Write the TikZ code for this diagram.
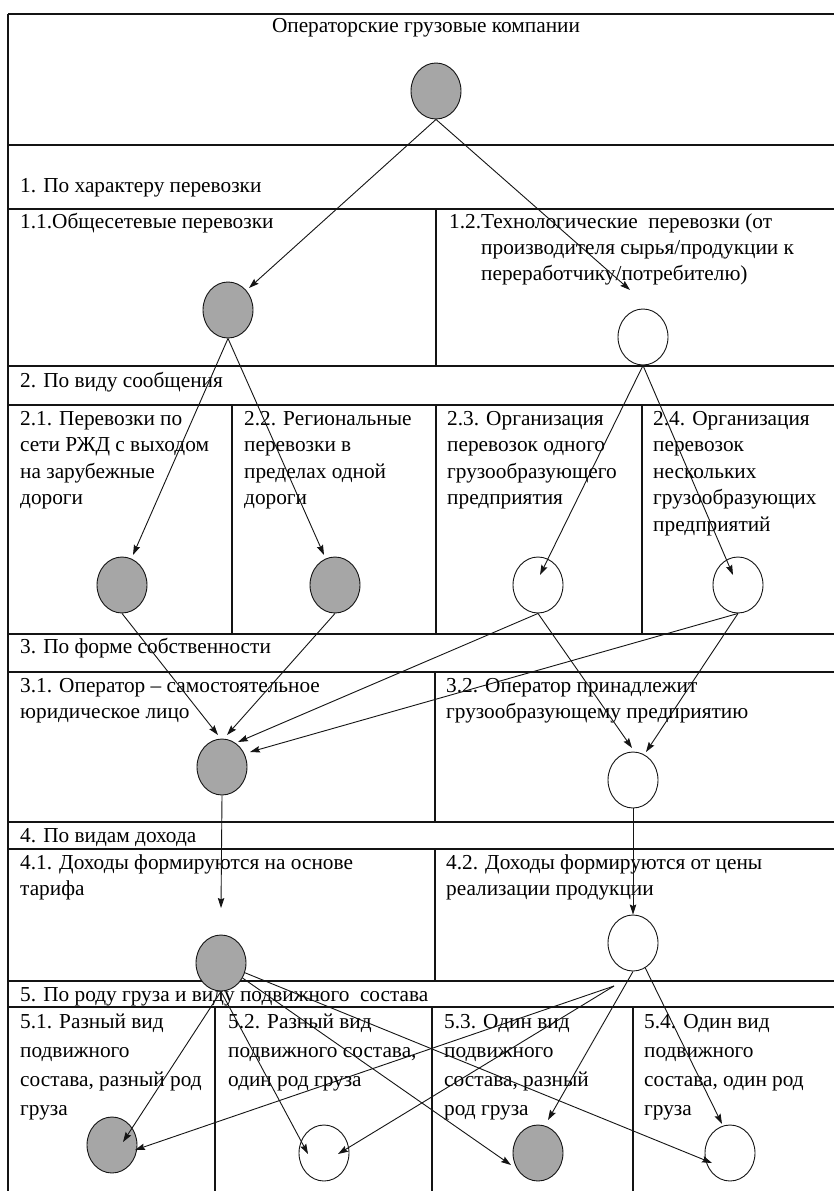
\documentclass[tikz,border=0pt]{standalone}
\usepackage{fontspec}
\setmainfont{Liberation Serif}
\usetikzlibrary{arrows.meta,calc,shapes.geometric}
\definecolor{nodegray}{HTML}{A6A6A6}
\definecolor{inkline}{HTML}{141414}
\begin{document}
\begin{tikzpicture}[x=1pt,y=-1pt,
  hline/.style={line width=2pt,inkline},
  vline/.style={line width=1.2pt,inkline},
  circ/.style={ellipse,draw=inkline,line width=0.9pt,minimum width=50pt,minimum height=56pt,inner sep=0pt},
  gnode/.style={circ,fill=nodegray},
  wnode/.style={circ,fill=white},
  lbl/.style={anchor=base west,inner sep=0pt,align=left,font=\fontsize{21.3}{26.5}\selectfont},
  lblfive/.style={lbl,font=\fontsize{21.3}{29}\selectfont},
  conn/.style={line width=0.9pt,inkline,-{Stealth[length=10pt,width=6.5pt,inset=1.5pt]}}
]
\useasboundingbox (0,0) rectangle (834,1191);
\fill[white] (0,0) rectangle (834,1191);

% grid
\foreach \yy in {14,145,209,366,405,634,672,822,849,981,1007}
  \draw[hline] (8,\yy) -- (834,\yy);
\draw[hline] (8,14) -- (8,1191);
\draw[vline] (436,209) -- (436,366);
\draw[vline] (232,405) -- (232,634);
\draw[vline] (436,405) -- (436,634);
\draw[vline] (642,405) -- (642,634);
\draw[vline] (435,672) -- (435,822);
\draw[vline] (435,849) -- (435,981);
\draw[vline] (215,1007) -- (215,1191);
\draw[vline] (432,1007) -- (432,1191);
\draw[vline] (633,1007) -- (633,1191);

% texts (base anchor of a multi-line node = baseline of its last line)
\node[lbl,anchor=base] (t0) at (426,32) {Операторские грузовые компании};
\node[lbl] (t1) at (20,192) {1. По характеру перевозки};
\node[lbl] (t11) at (20,228) {1.1.Общесетевые перевозки};
\node[lbl] (t12a) at (449,228) {1.2.Технологические\ \ перевозки (от};
\node[lbl] (t12b) at (481,280.5) {производителя сырья/продукции к\\переработчику/потребителю)};
\node[lbl] (t2) at (20,387) {2. По виду сообщения};
\node[lbl] (t21) at (20,504.5) {2.1. Перевозки по\\сети РЖД с выходом\\на зарубежные\\дороги};
\node[lbl] (t22) at (244,504.5) {2.2. Региональные\\перевозки в\\пределах одной\\дороги};
\node[lbl] (t23) at (447,504.5) {2.3. Организация\\перевозок одного\\грузообразующего\\предприятия};
\node[lbl] (t24) at (653,531) {2.4. Организация\\перевозок\\нескольких\\грузообразующих\\предприятий};
\node[lbl] (t3) at (20,653) {3. По форме собственности};
\node[lbl] (t31) at (20,718.5) {3.1. Оператор – самостоятельное\\юридическое лицо};
\node[lbl] (t32) at (446,718.5) {3.2. Оператор принадлежит\\грузообразующему предприятию};
\node[lbl] (t4) at (20,842) {4. По видам дохода};
\node[lbl] (t41) at (20,895.5) {4.1. Доходы формируются на основе\\тарифа};
\node[lbl] (t42) at (446,895.5) {4.2. Доходы формируются от цены\\реализации продукции};
\node[lbl] (t5) at (20,1001) {5. По роду груза и виду подвижного\ \ состава};
\node[lblfive] (t51) at (20,1115) {5.1. Разный вид\\подвижного\\состава, разный род\\груза};
\node[lblfive] (t52) at (228,1086) {5.2. Разный вид\\подвижного состава,\\один род груза};
\node[lblfive] (t53) at (444,1115) {5.3. Один вид\\подвижного\\состава, разный\\род груза};
\node[lblfive] (t54) at (644,1115) {5.4. Один вид\\подвижного\\состава, один род\\груза};

% circles
\node[gnode] (c0) at (436,91) {};
\node[gnode] (c11) at (228,310) {};
\node[wnode] (c12) at (643,337) {};
\node[gnode] (c21) at (122,585) {};
\node[gnode] (c22) at (335,585) {};
\node[wnode] (c23) at (538,585) {};
\node[wnode] (c24) at (738,585) {};
\node[gnode] (c31) at (222,767) {};
\node[wnode] (c32) at (633,780) {};
\node[gnode] (c41) at (221,963) {};
\node[wnode] (c42) at (633,943) {};
\node[gnode] (c51) at (112,1145) {};
\node[wnode] (c52) at (324,1153) {};
\node[gnode] (c53) at (538,1153) {};
\node[wnode] (c54) at (730,1153) {};

\coordinate (e2) at (630,290);
\coordinate (e13) at (221,908);
\coordinate (s42) at (614,986);

% connectors
\draw[conn] (c0.south) -- ($(c11)+(21,-22)$);
\draw[conn] (c0.south) -- (e2);
\draw[conn] (c11.south) -- ($(c21)+(11,-30)$);
\draw[conn] (c11.south) -- ($(c22)+(-11,-30)$);
\draw[conn] (c12.south) -- ($(c23)+(2,-10)$);
\draw[conn] (c12.south) -- ($(c24)+(-5,-10)$);
\draw[conn] (c21.south) -- ($(c31)+(-4,-32)$);
\draw[conn] (c22.south) -- ($(c31)+(5,-32)$);
\draw[conn] (c23.south) -- ($(c31)+(16,-25)$);
\draw[conn] (c24.south) -- ($(c31)+(28,-15)$);
\draw[conn] (c23.south) -- ($(c32)+(-1,-32)$);
\draw[conn] (c24.south) -- ($(c32)+(13,-28)$);
\draw[conn] (c31.south) -- (e13);
\draw[conn] (c32.south) -- (c42.north);
\draw[conn] (c41.south) -- ($(c51)+(11,-3)$);
\draw[conn] (c41.south) -- ($(c52)+(-16,1)$);
\draw[conn] (c41) -- ($(c53)+(-27,12)$);
\draw[conn] (c41) -- ($(c54)+(-18,10)$);
\draw[conn] (s42) -- ($(c51)+(23,5)$);
\draw[conn] (s42) -- ($(c52)+(14,1)$);
\draw[conn] (c42.south) -- ($(c53)+(10,-33)$);
\draw[conn] (c42) -- ($(c54)+(-8,-29)$);
\end{tikzpicture}
\end{document}
